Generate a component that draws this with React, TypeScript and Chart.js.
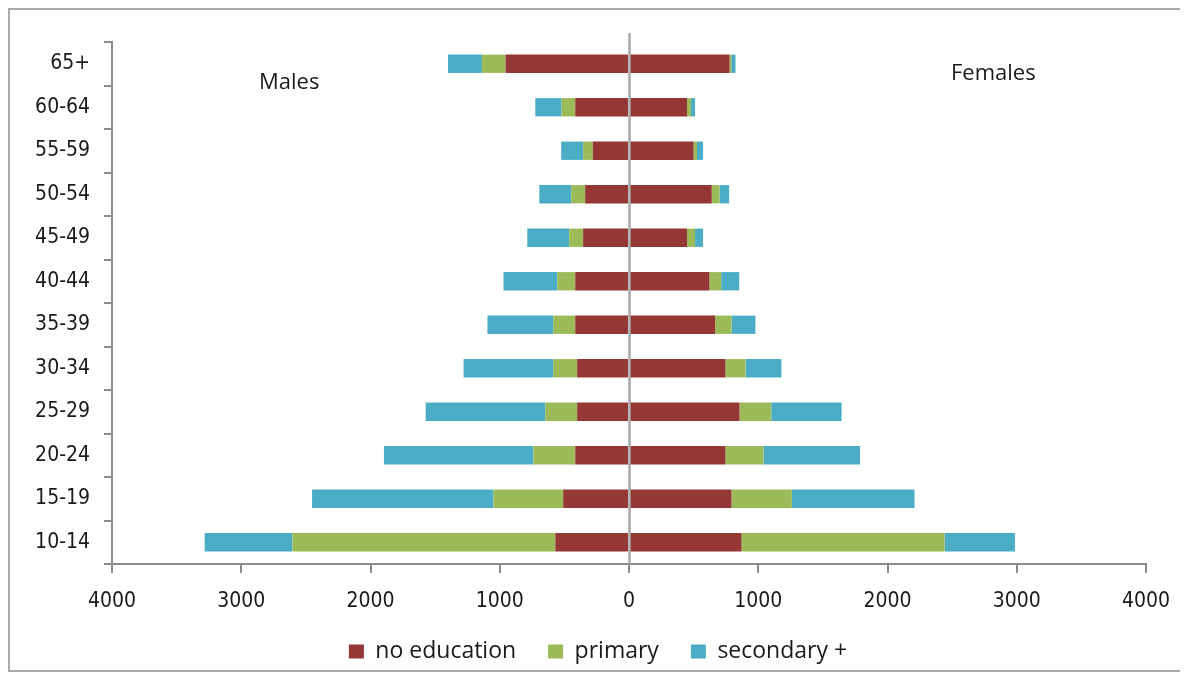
import { useEffect, useRef } from "react";
import { Chart, registerables } from "chart.js";

Chart.register(...registerables);

// Age groups, listed top to bottom
const ageGroups = [
  "65+", "60-64", "55-59", "50-54", "45-49", "40-44",
  "35-39", "30-34", "25-29", "20-24", "15-19", "10-14",
];

// Males by education level
const maleNoEducation = [955, 416, 280, 339, 355, 416, 416, 401, 401, 416, 509, 570];
const malePrimary = [183, 106, 75, 108, 108, 139, 170, 185, 247, 324, 540, 2035];
const maleSecondary = [262, 203, 170, 247, 324, 416, 509, 694, 925, 1156, 1403, 678];

// Females by education level
const femaleNoEducation = [778, 449, 500, 640, 449, 622, 667, 746, 855, 746, 793, 871];
const femalePrimary = [13, 31, 26, 60, 62, 91, 127, 156, 246, 295, 467, 1571];
const femaleSecondary = [33, 31, 47, 75, 62, 140, 184, 277, 544, 747, 949, 544];

const seriesNames = ["no education", "primary", "secondary +"];
const seriesColors = ["#953735", "#9BBB59", "#4BACC6"];
const sideTitles = ["Males", "Females"];

const axisMin = -4000;
const axisMax = 4000;
const axisStep = 1000;

const W = 1180;
const H = 665;
const tickFont = "'DejaVu Sans Condensed', 'DejaVu Sans', sans-serif";
const textFont = "'Open Sans', 'DejaVu Sans', sans-serif";
const axisGray = "#8c8c8c";

// White background and the light frame around the whole chart
const framePlugin = {
  id: "frame",
  beforeDraw(chart: any) {
    const { ctx, width, height } = chart;
    ctx.save();
    ctx.fillStyle = "#ffffff";
    ctx.fillRect(0, 0, width, height);
    ctx.strokeStyle = "#ababab";
    ctx.lineWidth = 2;
    ctx.strokeRect(1, 1, width - 3, height - 3);
    ctx.restore();
  },
};

// Vertical divider at zero between the two sides
const zeroLinePlugin = {
  id: "zeroLine",
  afterDatasetsDraw(chart: any) {
    const { ctx, chartArea, scales } = chart;
    const x = Math.round(scales.x.getPixelForValue(0)) + 0.5;
    ctx.save();
    ctx.strokeStyle = "#a9a9a9";
    ctx.lineWidth = 2.5;
    ctx.beginPath();
    ctx.moveTo(x, chartArea.top - 9);
    ctx.lineTo(x, chartArea.bottom);
    ctx.stroke();
    ctx.restore();
  },
};

// "Males" / "Females" captions inside the plot
const sideTitlePlugin = {
  id: "sideTitles",
  afterDraw(chart: any) {
    const { ctx, chartArea } = chart;
    ctx.save();
    ctx.fillStyle = "#1a1a1a";
    ctx.font = `22px ${textFont}`;
    ctx.textBaseline = "alphabetic";
    ctx.textAlign = "left";
    ctx.fillText(sideTitles[0], chartArea.left + 147, chartArea.top + 47);
    ctx.fillText(sideTitles[1], chartArea.left + 839, chartArea.top + 38);
    ctx.restore();
  },
};

export default function App() {
  const canvasRef = useRef<HTMLCanvasElement | null>(null);

  useEffect(() => {
    const canvas = canvasRef.current;
    if (!canvas) return;
    document.documentElement.style.overflow = "hidden";

    const male = [maleNoEducation, malePrimary, maleSecondary];
    const female = [femaleNoEducation, femalePrimary, femaleSecondary];

    const datasets = [
      ...male.map((values, i) => ({
        label: seriesNames[i],
        data: values.map((v) => -v),
        backgroundColor: seriesColors[i],
        stack: "pop",
      })),
      ...female.map((values, i) => ({
        label: seriesNames[i],
        data: values,
        backgroundColor: seriesColors[i],
        stack: "pop",
      })),
    ];

    const chart = new Chart(canvas, {
      type: "bar",
      data: { labels: ageGroups, datasets },
      plugins: [framePlugin, zeroLinePlugin, sideTitlePlugin],
      options: {
        animation: false,
        responsive: false,
        indexAxis: "y",
        layout: { padding: { top: 34, right: 0, left: 0, bottom: 0 } },
        datasets: {
          bar: { barPercentage: 0.42, categoryPercentage: 1 },
        },
        plugins: {
          tooltip: { enabled: false },
          legend: {
            position: "bottom",
            labels: {
              boxWidth: 15,
              boxHeight: 14,
              padding: 32,
              color: "#1a1a1a",
              font: { family: textFont, size: 23 },
              filter: (item: any) => item.datasetIndex < 3,
            },
          },
        },
        scales: {
          x: {
            stacked: true,
            min: axisMin,
            max: axisMax,
            afterFit: (scale: any) => {
              scale.height = 44;
            },
            ticks: {
              stepSize: axisStep,
              padding: 16,
              color: "#1a1a1a",
              font: { family: tickFont, size: 21 },
              callback: (v: any) => String(Math.abs(Number(v))),
            },
            grid: {
              drawOnChartArea: false,
              drawTicks: true,
              tickLength: 9,
              color: axisGray,
              lineWidth: 2,
            },
            border: { display: true, color: axisGray, width: 2 },
          },
          y: {
            stacked: true,
            afterFit: (scale: any) => {
              scale.width = 104;
            },
            ticks: {
              padding: 14,
              color: "#1a1a1a",
              font: { family: tickFont, size: 21 },
            },
            grid: {
              offset: true,
              drawOnChartArea: false,
              drawTicks: true,
              tickLength: 8,
              color: axisGray,
              lineWidth: 2,
            },
            border: { display: true, color: axisGray, width: 2 },
          },
          // empty right-hand margin strip so the plot ends at the 4000 mark
          margin: {
            type: "category",
            position: "right",
            display: true,
            afterFit: (scale: any) => {
              scale.width = 42;
            },
            ticks: { display: false },
            grid: { display: false, drawTicks: false },
            border: { display: false },
          },
        },
      },
    } as any);

    return () => chart.destroy();
  }, []);

  return (
    <canvas
      ref={canvasRef}
      width={W}
      height={H}
      style={{ display: "block", width: W, height: H }}
    />
  );
}
